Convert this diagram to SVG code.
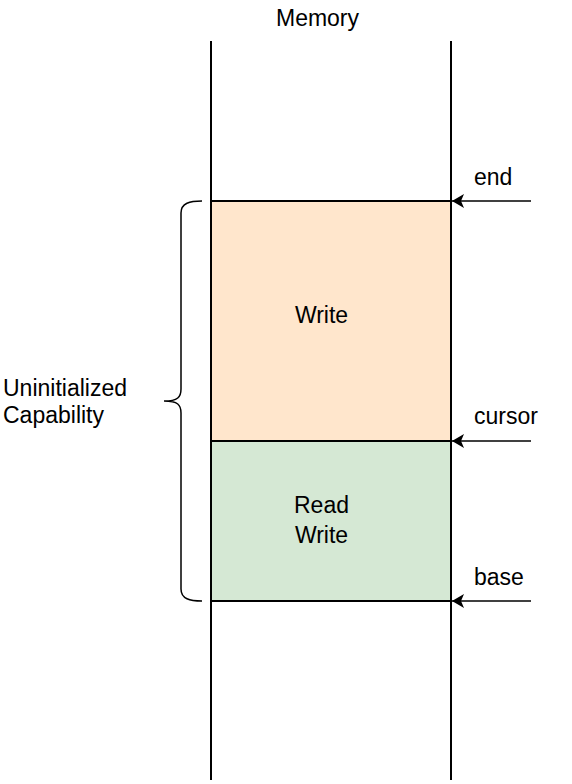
<svg xmlns="http://www.w3.org/2000/svg" width="572" height="784" viewBox="0 0 572 784">
<style>
text{font-family:"Liberation Sans",Arial,sans-serif;font-size:23px;fill:#000}
.c{text-anchor:middle}
.ln{stroke:#000;stroke-width:2;fill:none}
.ar{stroke:#000;stroke-width:1.5;fill:none}
</style>
<defs>
<marker id="ah" viewBox="0 0 12 14" refX="12" refY="7" markerWidth="12" markerHeight="14" markerUnits="userSpaceOnUse" orient="auto">
<path d="M0 0 L12 7 L0 14 L3 7 Z" fill="#000"/>
</marker>
</defs>
<rect width="572" height="784" fill="#fff"/>
<g id="memory">
<line class="ln" x1="211" y1="41" x2="211" y2="780"/>
<line class="ln" x1="451" y1="41" x2="451" y2="780"/>
<text class="c" x="317.5" y="26">Memory</text>
</g>
<g id="write">
<rect x="211" y="201" width="240" height="240" fill="#ffe6cc" stroke="#000" stroke-width="2"/>
<text class="c" x="321.5" y="323">Write</text>
</g>
<g id="readwrite">
<rect x="211" y="441" width="240" height="160" fill="#d5e8d4" stroke="#000" stroke-width="2"/>
<text class="c" x="321.5" y="513">Read</text>
<text class="c" x="321.5" y="543">Write</text>
</g>
<g id="brace">
<path class="ar" d="M 202 201 C 190 201 181 203 181 213 L 181 389 C 181 397 178 401 164 401 C 178 401 181 405 181 413 L 181 589 C 181 599 190 601 202 601"/>
<text x="3" y="396">Uninitialized</text>
<text x="3" y="423">Capability</text>
</g>
<g id="connectors">
<line class="ar" x1="531" y1="201" x2="452" y2="201" marker-end="url(#ah)"/>
<line class="ar" x1="531" y1="441" x2="452" y2="441" marker-end="url(#ah)"/>
<line class="ar" x1="531" y1="601" x2="452" y2="601" marker-end="url(#ah)"/>
</g>
<g id="labels">
<text x="474" y="185">end</text>
<text x="474" y="424">cursor</text>
<text x="474" y="585">base</text>
</g>
</svg>
